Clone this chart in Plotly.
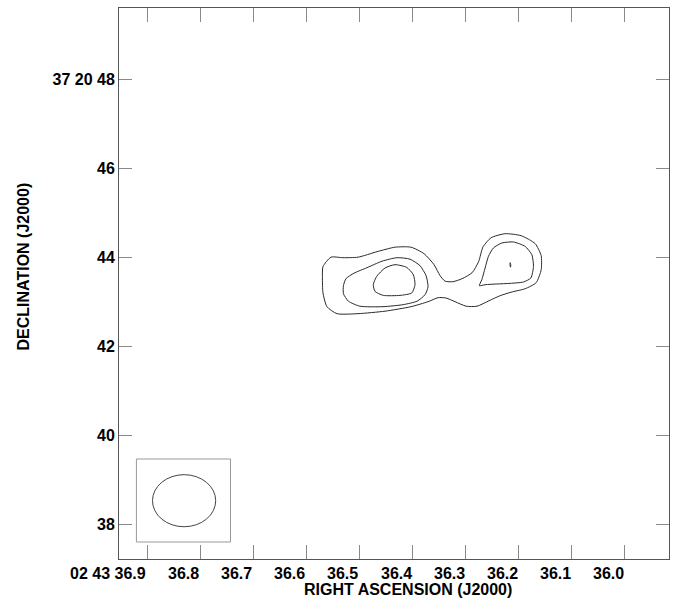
import math
import plotly.graph_objects as go

# ---------------- data (RA seconds of 02h43m, Dec arcsec of +37d20m) ----------------
x_tick_values = [36.9, 36.8, 36.7, 36.6, 36.5, 36.4, 36.3, 36.2, 36.1, 36.0]
x_tick_labels = ["02 43 36.9", "36.8", "36.7", "36.6", "36.5", "36.4", "36.3", "36.2", "36.1", "36.0"]
y_tick_values = [48, 46, 44, 42, 40, 38]
y_tick_labels = ["37 20 48", "46", "44", "42", "40", "38"]

# lowest contour (encloses both components)
c1_ra = [36.5687, 36.5537, 36.5310, 36.5027, 36.4669, 36.4330, 36.4028, 36.3783, 36.3595, 36.3481,
         36.3387, 36.3236, 36.3067, 36.2878, 36.2756, 36.2671, 36.2520, 36.2256, 36.1954, 36.1690,
         36.1577, 36.1577, 36.1672, 36.1879, 36.2143, 36.2350, 36.2558, 36.2784, 36.2991, 36.3199,
         36.3368, 36.3519, 36.3708, 36.4028, 36.4518, 36.5027, 36.5423, 36.5612, 36.5687, 36.5697]
c1_dec = [43.798, 44.011, 44.000, 44.011, 44.135, 44.236, 44.236, 44.090, 43.843, 43.596,
          43.472, 43.461, 43.528, 43.663, 43.910, 44.247, 44.449, 44.539, 44.494, 44.315,
          44.045, 43.730, 43.438, 43.303, 43.225, 43.146, 43.034, 42.910, 42.910, 43.011,
          43.094, 43.101, 43.011, 42.899, 42.798, 42.742, 42.742, 42.899, 43.213, 43.551]

# second contour, eastern component
c2a_ra = [36.5301, 36.5254, 36.5103, 36.4858, 36.4575, 36.4292, 36.4047, 36.3859, 36.3745,
          36.3708, 36.3764, 36.3915, 36.4179, 36.4556, 36.4990, 36.5207, 36.5301]
c2a_dec = [43.371, 43.528, 43.652, 43.775, 43.921, 44.000, 43.966, 43.820, 43.596,
           43.348, 43.169, 43.022, 42.944, 42.899, 42.910, 43.022, 43.191]

# second contour, western component
c2b_ra = [36.2741, 36.2695, 36.2633, 36.2571, 36.2477, 36.2318, 36.2099, 36.1879, 36.1753,
          36.1722, 36.1771, 36.1911, 36.2162, 36.2413, 36.2633]
c2b_dec = [43.371, 43.506, 43.769, 44.029, 44.218, 44.330, 44.353, 44.254, 44.067,
           43.804, 43.544, 43.454, 43.423, 43.409, 43.393]

# third contour, eastern component
c3a_ra = [36.4739, 36.4675, 36.4518, 36.4330, 36.4109, 36.3985, 36.3953, 36.4015, 36.4236,
          36.4551, 36.4707]
c3a_dec = [43.393, 43.580, 43.769, 43.843, 43.782, 43.618, 43.393, 43.207, 43.153,
           43.153, 43.243]

# third contour, western component (tiny peak)
c3b_ra = [36.2160, 36.2150, 36.2155, 36.2165]
c3b_dec = [43.888, 43.840, 43.787, 43.840]

# restoring beam
beam_ra = 36.8302
beam_dec = 38.539
beam_major_arcsec = 1.42
beam_minor_arcsec = 1.17
beam_box_ra = [36.9200, 36.7428]
beam_box_dec = [37.611, 39.476]

x_range = [36.9528, 35.9170]
y_range = [37.229, 49.611]

# ---------------- figure ----------------
fig = go.Figure()

contours = [(c1_ra, c1_dec), (c2a_ra, c2a_dec), (c2b_ra, c2b_dec), (c3a_ra, c3a_dec), (c3b_ra, c3b_dec)]
for ra, dec in contours:
    fig.add_trace(go.Scatter(
        x=list(ra) + [ra[0]], y=list(dec) + [dec[0]],
        mode="lines", line=dict(color="#2a2a2a", width=1, shape="spline", smoothing=0.6),
        hoverinfo="skip", showlegend=False))

# beam (arcsec -> seconds of time at this declination)
cosd = math.cos(math.radians(37 + 20 / 60 + beam_dec / 3600))
half_ra = beam_major_arcsec / 2 / (15 * cosd)
half_dec = beam_minor_arcsec / 2
fig.add_shape(type="rect", xref="x", yref="y",
              x0=beam_box_ra[0], x1=beam_box_ra[1], y0=beam_box_dec[0], y1=beam_box_dec[1],
              line=dict(color="#999999", width=1))
fig.add_shape(type="circle", xref="x", yref="y",
              x0=beam_ra + half_ra, x1=beam_ra - half_ra,
              y0=beam_dec - half_dec, y1=beam_dec + half_dec,
              line=dict(color="#444444", width=1))

font_family = "Liberation Sans, Arial, sans-serif"

# x tick labels (right-aligned at the tick, as in the original)
for v, t in zip(x_tick_values, x_tick_labels):
    fig.add_annotation(x=v, y=0, xref="x", yref="paper", text=t, showarrow=False,
                       xanchor="right", yanchor="middle", xshift=1, yshift=-14,
                       font=dict(family=font_family, size=16, color="black", weight="bold"))

fig.add_annotation(x=0.5, y=0, xref="paper", yref="paper", text="RIGHT ASCENSION (J2000)",
                   showarrow=False, xanchor="center", yanchor="middle", xshift=14, yshift=-30,
                   font=dict(family=font_family, size=16, color="black", weight="bold"))
fig.add_annotation(x=0, y=0.5, xref="paper", yref="paper", text="DECLINATION (J2000)",
                   showarrow=False, textangle=-90, xanchor="center", yanchor="middle",
                   xshift=-96, yshift=17,
                   font=dict(family=font_family, size=16, color="black", weight="bold"))

fig.update_xaxes(range=x_range, tickvals=x_tick_values, showticklabels=False,
                 ticks="inside", ticklen=14, tickcolor="#8a8a8a", tickwidth=1,
                 showline=True, linecolor="#555555", linewidth=1, mirror="ticks",
                 showgrid=False, zeroline=False)
fig.update_yaxes(range=y_range, tickvals=y_tick_values, ticktext=y_tick_labels,
                 ticks="inside", ticklen=13, tickcolor="#8a8a8a", tickwidth=1,
                 showline=True, linecolor="#555555", linewidth=1, mirror="ticks",
                 showgrid=False, zeroline=False,
                 tickfont=dict(family=font_family, size=16, color="black", weight="bold"))

fig.update_layout(width=674, height=601, margin=dict(l=119, r=5, t=8, b=42),
                  paper_bgcolor="white", plot_bgcolor="white", showlegend=False)

fig.write_html("out.html", config={"displayModeBar": False})
with open("out.html", "r", encoding="utf-8") as f:
    html = f.read()
html = html.replace("<body>", '<body style="margin:0;padding:0;">', 1)
with open("out.html", "w", encoding="utf-8") as f:
    f.write(html)
